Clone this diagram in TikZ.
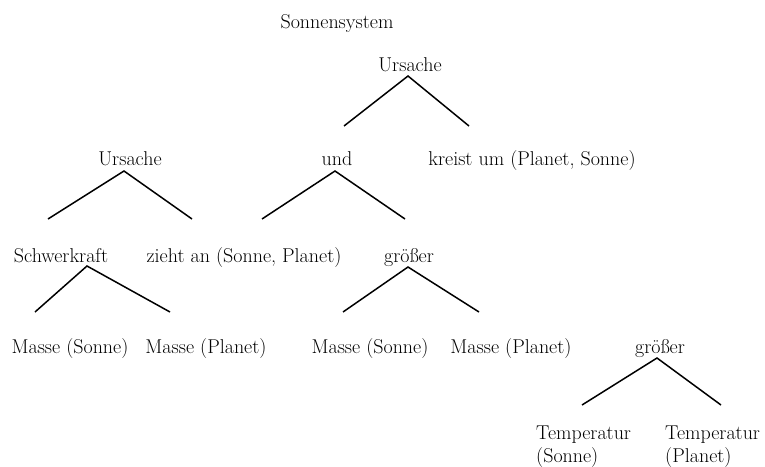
\documentclass[tikz,border=0pt]{standalone}
\usepackage{tikz}

\tikzset{
    lbl/.style={anchor=base,inner sep=0pt,font=\fontsize{20}{23}\selectfont},
    branch/.style={line width=1.5pt}
}

\begin{document}
\begin{tikzpicture}[x=1pt,y=-1pt]
            \useasboundingbox (0,0) rectangle (765,466);
            % labels of the tree
            \node[lbl] (title) at (337,28) {Sonnensystem};
            \node[lbl] (ursA) at (410,71) {Ursache};
            \node[lbl] (ursB) at (130,165) {Ursache};
            \node[lbl] (und) at (337,165) {und};
            \node[lbl] (kreist) at (532,165) {kreist um (Planet, Sonne)};
            \node[lbl] (schwer) at (61,262) {Schwerkraft};
            \node[lbl] (zieht) at (244,262) {zieht an (Sonne, Planet)};
            \node[lbl] (grA) at (409,262) {größer};
            \node[lbl] (msA) at (70,353) {Masse (Sonne)};
            \node[lbl] (mpA) at (206,353) {Masse (Planet)};
            \node[lbl] (msB) at (370,353) {Masse (Sonne)};
            \node[lbl] (mpB) at (511,353) {Masse (Planet)};
            \node[lbl] (grB) at (660,353) {größer};
            \node[lbl,anchor=north west,align=left] (ts) at (536,426) {Temperatur\\(Sonne)};
            \node[lbl,anchor=north west,align=left] (tp) at (665,426) {Temperatur\\(Planet)};
            % apex and ends of the branches
            \coordinate (ursAt) at (408,76);
            \coordinate (ursAl) at (344,126);
            \coordinate (ursAr) at (469,126);
            \coordinate (ursBt) at (124,171);
            \coordinate (ursBl) at (48,219);
            \coordinate (ursBr) at (192,219);
            \coordinate (undt) at (335,171);
            \coordinate (undl) at (262,219);
            \coordinate (undr) at (405,219);
            \coordinate (schwert) at (87,266);
            \coordinate (schwerl) at (35,312);
            \coordinate (schwerr) at (170,312);
            \coordinate (grAt) at (408,267);
            \coordinate (grAl) at (343,312);
            \coordinate (grAr) at (479,312);
            \coordinate (grBt) at (657,358);
            \coordinate (grBl) at (582,405);
            \coordinate (grBr) at (721,405);
            \foreach \b in {ursA,ursB,und,schwer,grA,grB}
                \draw[branch] (\b l) -- (\b t) -- (\b r);
\end{tikzpicture}
\end{document}
